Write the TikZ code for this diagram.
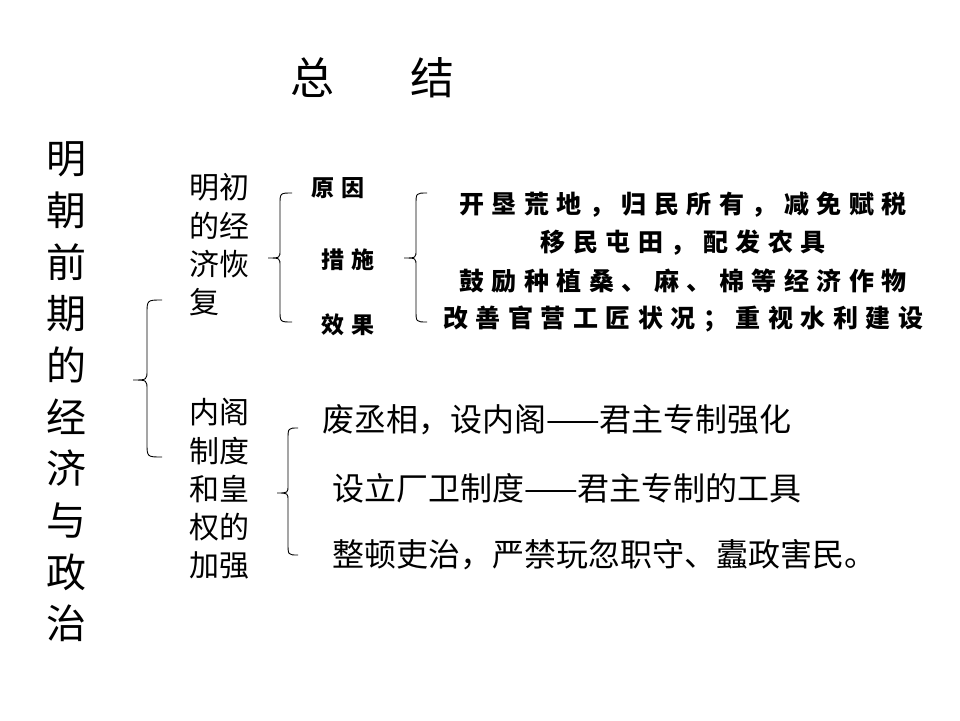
\documentclass[tikz,border=0pt]{standalone}
\usepackage{fontspec}
\newfontfamily\cjk{Noto Sans CJK SC}
\newfontfamily\cjkk[LetterSpace=30]{Noto Sans CJK SC}
\begin{document}
\begin{tikzpicture}[x=1pt,y=-1pt,
  plain/.style={inner sep=0pt,text=black},
  kai/.style={plain,font=\cjkk\bfseries\fontsize{25}{38}\selectfont},
  kais/.style={plain,font=\cjkk\bfseries\fontsize{23}{38}\selectfont},
  line/.style={plain,anchor=west,font=\cjk\fontsize{32}{36}\selectfont},
  brace/.style={draw=black,line width=0.9pt}]
\useasboundingbox (0,0) rectangle (960,720);
\fill[white] (0,0) rectangle (960,720);
% title
\node[plain,font=\cjk\fontsize{44}{50}\selectfont] (t1) at (312,78) {总};
\node[plain,font=\cjk\fontsize{44}{50}\selectfont] (t2) at (432,78) {结};
% left column
\node[plain,align=center,font=\cjk\fontsize{40}{51.7}\selectfont] (col) at (66,392) {明\\朝\\前\\期\\的\\经\\济\\与\\政\\治};
% big brace
\draw[brace] (162,300) .. controls (147,300) .. (147,314) -- (147,370) .. controls (147,380) .. (133,380) .. controls (147,380) .. (147,390) -- (147,443) .. controls (147,457) .. (162,457);
% 明初的经济恢复
\node[plain,align=left,anchor=west,font=\cjk\fontsize{30}{38.3}\selectfont] (b1) at (189,245) {明初\\的经\\济恢\\复};
% brace 2
\draw[brace] (292,193) .. controls (280,193) .. (280,205) -- (280,250) .. controls (280,258) .. (268,258) .. controls (280,258) .. (280,266) -- (280,310) .. controls (280,322) .. (292,322);
\node[kais,anchor=west] (yy) at (311,188) {原因};
\node[kais,anchor=west] (cs) at (321,260) {措施};
\node[kais,anchor=west] (xg) at (321,325) {效果};
% brace 3
\draw[brace] (427,193) .. controls (416,193) .. (416,205) -- (416,250) .. controls (416,258) .. (404,258) .. controls (416,258) .. (416,266) -- (416,310) .. controls (416,322) .. (427,322);
\node[kai] (m1) at (683,205) {开垦荒地，归民所有，减免赋税};
\node[kai] (m2) at (683,243) {移民屯田，配发农具};
\node[kai] (m3) at (683,281) {鼓励种植桑、麻、棉等经济作物};
\node[kai] (m4) at (683,319) {改善官营工匠状况；重视水利建设};
% 内阁制度和皇权的加强
\node[plain,align=left,anchor=west,font=\cjk\fontsize{30}{38.3}\selectfont] (b2) at (189,489) {内阁\\制度\\和皇\\权的\\加强};
% brace 4
\draw[brace] (298,428) .. controls (288,428) .. (288,440) -- (288,485) .. controls (288,493) .. (277,493) .. controls (288,493) .. (288,501) -- (288,543) .. controls (288,555) .. (298,555);
\node[line] (n1) at (322,420) {废丞相，设内阁——君主专制强化};
\node[line] (n2) at (332,488) {设立厂卫制度——君主专制的工具};
\node[line] (n3) at (332,555) {整顿吏治，严禁玩忽职守、蠹政害民。};
\end{tikzpicture}
\end{document}
